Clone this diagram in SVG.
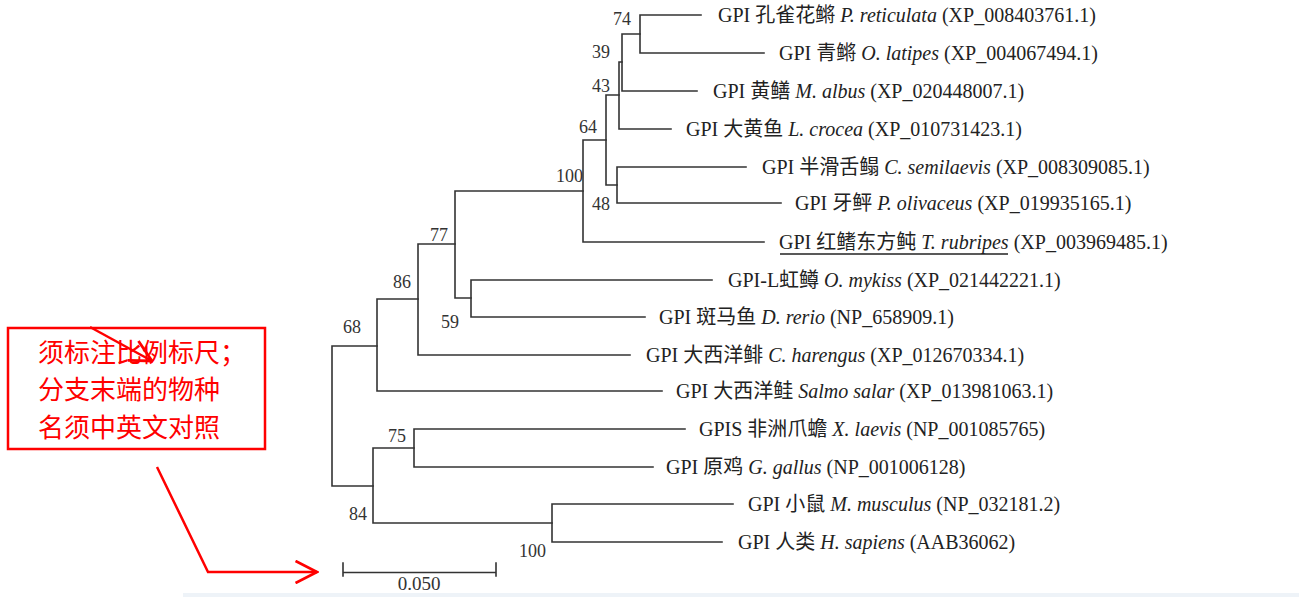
<svg xmlns="http://www.w3.org/2000/svg" width="1299" height="597" viewBox="0 0 1299 597">
<style>
.br{fill:none;stroke:#333;stroke-width:1.6;stroke-linecap:square}
.lb{font-family:"Liberation Serif","Noto Sans CJK SC",serif;font-size:20px;fill:#222}
.bs{font-family:"Liberation Serif",serif;font-size:18px;fill:#333;text-anchor:end}
.it{font-style:italic}
.red{fill:none;stroke:#ff0000;stroke-width:2.5}
.rt{font-family:"Noto Sans CJK SC",sans-serif;font-size:26px;fill:#ff0000}
</style>
<defs>
<marker id="oa" viewBox="0 0 24 24" refX="22.5" refY="12" markerWidth="24" markerHeight="24" markerUnits="userSpaceOnUse" orient="auto">
<path d="M1,1 L22.5,12 L1,23" fill="none" stroke="#ff0000" stroke-width="2.8"/>
</marker>
</defs>
<rect width="1299" height="597" fill="#fff"/>
<rect x="183" y="593" width="1116" height="4" fill="#eef3f8"/>
<g id="connectors">
<path class="br" d="M640,15 H701 M640,15 V53 H764"/>
<path class="br" d="M622,34 H640 M622,34 V91 H697"/>
<path class="br" d="M619,62 H622 M619,62 V129 H671"/>
<path class="br" d="M617,167 H746 M617,167 V203 H781"/>
<path class="br" d="M606,95 H619 M606,95 V185 H617"/>
<path class="br" d="M583,140 H606 M583,140 V242 H764"/>
<path class="br" d="M471,280 H712 M471,280 V317 H645"/>
<path class="br" d="M455,191 H583 M455,191 V298 H471"/>
<path class="br" d="M418,244 H455 M418,244 V355 H630"/>
<path class="br" d="M377,299 H418 M377,299 V391 H662"/>
<path class="br" d="M414,429 H685 M414,429 V467 H653"/>
<path class="br" d="M552,504 H733 M552,504 V542 H722"/>
<path class="br" d="M373,448 H414 M373,448 V523 H552"/>
<path class="br" d="M332,346 H377 M332,346 V486 H373"/>
</g>
<g id="bootstrap">
<text class="bs" x="631" y="25">74</text>
<text class="bs" x="610" y="58">39</text>
<text class="bs" x="610" y="92">43</text>
<text class="bs" x="597" y="133">64</text>
<text class="bs" x="583" y="182">100</text>
<text class="bs" x="610" y="210">48</text>
<text class="bs" x="448" y="241">77</text>
<text class="bs" x="411" y="288">86</text>
<text class="bs" x="459" y="328">59</text>
<text class="bs" x="361" y="333">68</text>
<text class="bs" x="406" y="442">75</text>
<text class="bs" x="367" y="520">84</text>
<text class="bs" x="546" y="557">100</text>
</g>
<g id="leaf1"><text class="lb" x="718" y="22">GPI 孔雀花鳉 <tspan class="it">P. reticulata</tspan> (XP_008403761.1)</text></g>
<g id="leaf2"><text class="lb" x="779" y="60">GPI 青鳉 <tspan class="it">O. latipes</tspan> (XP_004067494.1)</text></g>
<g id="leaf3"><text class="lb" x="713" y="98">GPI 黄鳝 <tspan class="it">M. albus</tspan> (XP_020448007.1)</text></g>
<g id="leaf4"><text class="lb" x="686" y="136">GPI 大黄鱼 <tspan class="it">L. crocea</tspan> (XP_010731423.1)</text></g>
<g id="leaf5"><text class="lb" x="762" y="174">GPI 半滑舌鳎 <tspan class="it">C. semilaevis</tspan> (XP_008309085.1)</text></g>
<g id="leaf6"><text class="lb" x="795" y="210">GPI 牙鲆 <tspan class="it">P. olivaceus</tspan> (XP_019935165.1)</text></g>
<g id="leaf7"><text class="lb" x="779" y="249">GPI 红鳍东方鲀 <tspan class="it">T. rubripes</tspan> (XP_003969485.1)</text>
<line x1="780" y1="254" x2="1008" y2="254" stroke="#222" stroke-width="1.4"/></g>
<g id="leaf8"><text class="lb" x="728" y="287">GPI-L虹鳟 <tspan class="it">O. mykiss</tspan> (XP_021442221.1)</text></g>
<g id="leaf9"><text class="lb" x="659" y="324">GPI 斑马鱼 <tspan class="it">D. rerio</tspan> (NP_658909.1)</text></g>
<g id="leaf10"><text class="lb" x="646" y="362">GPI 大西洋鲱 <tspan class="it">C. harengus</tspan> (XP_012670334.1)</text></g>
<g id="leaf11"><text class="lb" x="676" y="398">GPI 大西洋鲑 <tspan class="it">Salmo salar</tspan> (XP_013981063.1)</text></g>
<g id="leaf12"><text class="lb" x="699" y="436">GPIS 非洲爪蟾 <tspan class="it">X. laevis</tspan> (NP_001085765)</text></g>
<g id="leaf13"><text class="lb" x="666" y="474">GPI 原鸡 <tspan class="it">G. gallus</tspan> (NP_001006128)</text></g>
<g id="leaf14"><text class="lb" x="748" y="511">GPI 小鼠 <tspan class="it">M. musculus</tspan> (NP_032181.2)</text></g>
<g id="leaf15"><text class="lb" x="738" y="549">GPI 人类 <tspan class="it">H. sapiens</tspan> (AAB36062)</text></g>
<g id="scalebar">
<path class="br" d="M343,572.5 H496 M343,563 V576 M496,563 V576"/>
<text x="419" y="590" font-family="Liberation Serif, serif" font-size="19" fill="#333" text-anchor="middle">0.050</text>
</g>
<g id="note">
<rect class="red" x="8" y="328" width="257" height="121"/>
<text class="rt" x="38" y="362">须标注比例标尺；</text>
<text class="rt" x="38" y="399">分支末端的物种</text>
<text class="rt" x="38" y="437">名须中英文对照</text>
<line class="red" x1="90" y1="327" x2="152" y2="361" marker-end="url(#oa)"/>
<polyline class="red" points="157,467 208,572 317,572" marker-end="url(#oa)"/>
</g>
</svg>
